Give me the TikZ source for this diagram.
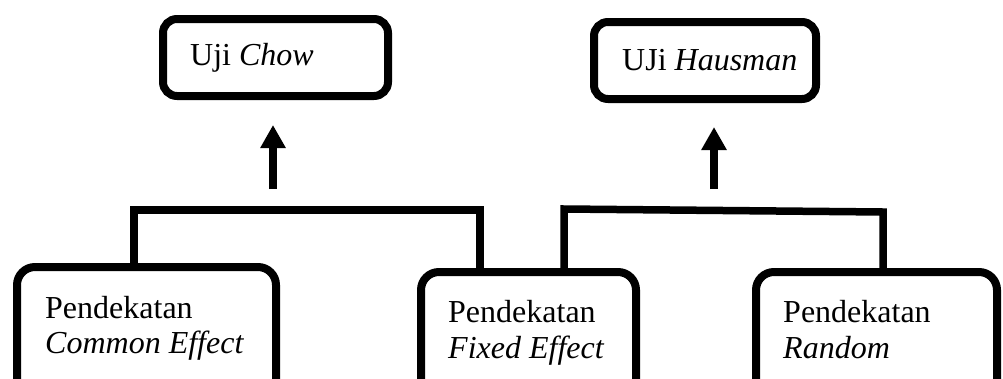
\documentclass[tikz,border=0pt]{standalone}
\usepackage{fontspec}
\setmainfont{Liberation Serif}
\usetikzlibrary{arrows.meta}
\begin{document}
\begin{tikzpicture}[x=1pt,y=-1pt,
  topbox/.style={draw, line width=8pt, rounded corners=14pt, outer sep=0pt, inner sep=0pt},
  botbox/.style={draw, line width=8pt, rounded corners=18pt, outer sep=0pt, inner sep=0pt},
  lbl/.style={anchor=base west, inner sep=0pt, font=\fontsize{32}{36}\selectfont},
  conn/.style={line width=7.5pt},
  arr/.style={line width=8pt, -{Triangle[width=24pt,length=23pt]}}]
\useasboundingbox (0,0) rectangle (1003,378);
\clip (0,0) rectangle (1003,378);
% boxes
\node[topbox, minimum width=225pt, minimum height=77pt] (chow) at (275.5,57.5) {};
\node[topbox, minimum width=222pt, minimum height=77pt] (haus) at (705,60.5) {};
\node[botbox, minimum width=259pt, minimum height=153pt] (b1) at (146.5,343.5) {};
\node[botbox, minimum width=215pt, minimum height=148pt] (b2) at (528.5,346) {};
\node[botbox, minimum width=241pt, minimum height=148pt] (b3) at (876.5,346) {};
% labels
\node[lbl] (tchow) at (190,65) {Uji \textit{Chow}};
\node[lbl] (thaus) at (622,70) {UJi \textit{Hausman}};
\node[lbl] (t1a) at (45,318) {Pendekatan};
\node[lbl] (t1b) at (45,353) {\textit{Common Effect}};
\node[lbl] (t2a) at (448,322) {Pendekatan};
\node[lbl] (t2b) at (448,358) {\textit{Fixed Effect}};
\node[lbl] (t3a) at (783,322) {Pendekatan};
\node[lbl] (t3b) at (783,358) {\textit{Random}};
% brackets
\coordinate (k1) at (134,210);
\coordinate (k2) at (480,210);
\coordinate (k3) at (564,209);
\coordinate (k4) at (883,212);
\draw[conn] (b1.north -| k1) -- (k1) -- (k2) -- (b2.north -| k2);
\draw[conn] (b2.north -| k3) -- (k3) -- (k4) -- (b3.north -| k4);
% arrows
\coordinate (a1s) at (273,189);
\coordinate (a1e) at (273,125);
\coordinate (a2s) at (714,189);
\coordinate (a2e) at (714,127);
\draw[arr] (a1s) -- (a1e);
\draw[arr] (a2s) -- (a2e);
\end{tikzpicture}
\end{document}
